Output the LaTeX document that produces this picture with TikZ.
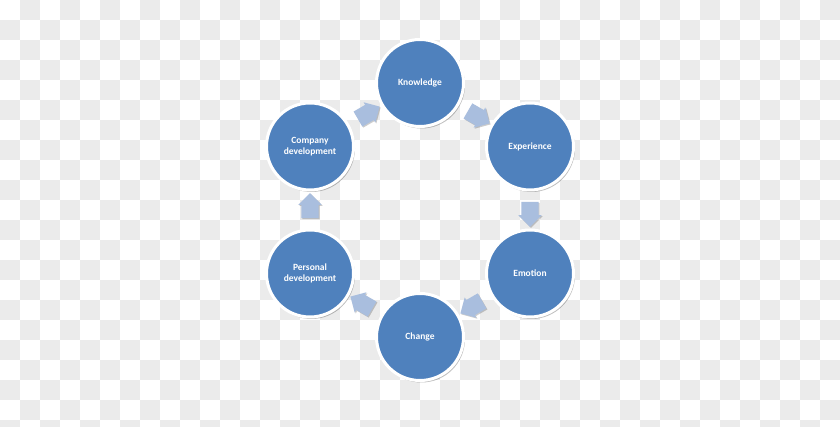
\documentclass[tikz,border=0pt]{standalone}
\usepackage{fontspec}
\setmainfont{Carlito}
\usepackage{xcolor}
\usepackage{tikz}
\usetikzlibrary{shapes.arrows,shadows}
\definecolor{stagefill}{HTML}{4F81BD}
\definecolor{arrowfill}{HTML}{A9BEDE}
\definecolor{checkgray}{HTML}{EBEBEB}
\tikzset{
  stage/.style={circle,fill=stagefill,draw=white,line width=3pt,minimum size=87pt,
    inner sep=0pt,align=center,text=white,font=\fontsize{9.5}{11.5}\selectfont\bfseries,
    drop shadow={shadow xshift=1.5pt,shadow yshift=-2pt,opacity=.25,fill=black}},
  flow/.style={single arrow,fill=arrowfill,draw=none,minimum height=25pt,
    single arrow head extend=3pt,inner xsep=0pt,inner ysep=8.5pt,
    drop shadow={shadow xshift=1pt,shadow yshift=-1pt,opacity=.2,fill=black}}
}
\begin{document}
\begin{tikzpicture}[x=1pt,y=1pt]
\useasboundingbox(0,0)rectangle(840,427);
% background checks
\fill[white](0,0)rectangle(840,427);
\begin{scope}
\clip(0,0)rectangle(840,427);
\foreach \i in {0,...,41}{
  \foreach \j in {0,...,21}{
    \ifodd\numexpr\i+\j\relax
      \fill[checkgray](20*\i,427-20*\j)rectangle++(20,-20);
    \fi}}
\end{scope}
% stages
\node[stage](knowledge)at(420,344){Knowledge};
\node[stage](experience)at(530,280.5){Experience};
\node[stage](emotion)at(530,153.5){Emotion};
\node[stage](change)at(420,90){Change};
\node[stage](personal)at(310,153.5){Personal\\development};
\node[stage](company)at(310,280.5){Company\\development};
% arrows between stages
\node[flow,rotate=-30](kexp)at(475,312){};
\node[flow,rotate=-90](expem)at(530,217){};
\node[flow,rotate=-150](emch)at(475,122){};
\node[flow,rotate=150](chpers)at(365,122){};
\node[flow,rotate=90](perscomp)at(310,217){};
\node[flow,rotate=30](compk)at(365,312){};
\end{tikzpicture}
\end{document}
